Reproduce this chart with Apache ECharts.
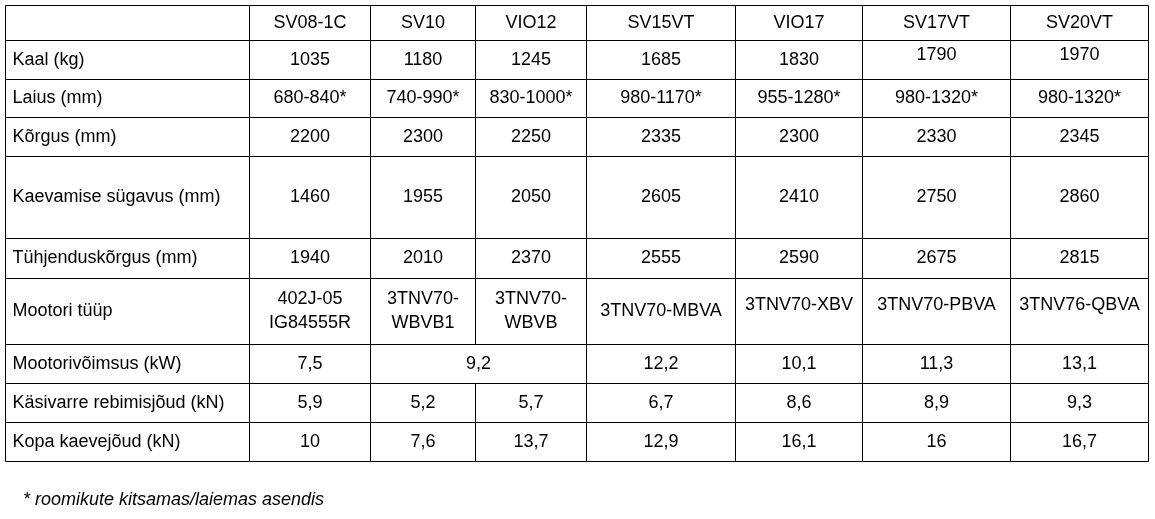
<!DOCTYPE html>
<html><head><meta charset="utf-8">
<script src="https://cdn.jsdelivr.net/npm/echarts@6/dist/echarts.min.js"></script>
<style>html,body{margin:0;padding:0;background:#fff}#c{width:1155px;height:519px}</style>
</head><body><div id="c"></div>
<script>
// ---- data ----
const models = ['SV08-1C','SV10','VIO12','SV15VT','VIO17','SV17VT','SV20VT'];
const rowLabels = ['Kaal (kg)','Laius (mm)','Kõrgus (mm)','Kaevamise sügavus (mm)','Tühjenduskõrgus (mm)','Mootori tüüp','Mootorivõimsus (kW)','Käsivarre rebimisjõud (kN)','Kopa kaevejõud (kN)'];
const kaal = [1035,1180,1245,1685,1830,1790,1970];
const laius = ['680-840*','740-990*','830-1000*','980-1170*','955-1280*','980-1320*','980-1320*'];
const korgus = [2200,2300,2250,2335,2300,2330,2345];
const kaevamiseSugavus = [1460,1955,2050,2605,2410,2750,2860];
const tuhjenduskorgus = [1940,2010,2370,2555,2590,2675,2815];
const mootoriTuup = ['402J-05\nIG84555R','3TNV70-\nWBVB1','3TNV70-\nWBVB','3TNV70-MBVA','3TNV70-XBV','3TNV70-PBVA','3TNV76-QBVA'];
const mootorivoimsus = [7.5,9.2,null,12.2,10.1,11.3,13.1]; // null = merged with previous cell
const kasivarreJoud = [5.9,5.2,5.7,6.7,8.6,8.9,9.3];
const kopaJoud = [10,7.6,13.7,12.9,16.1,16,16.7];
const footnote = '* roomikute kitsamas/laiemas asendis';

// ---- layout ----
const colEdges = [5,249,370,475,586,735,862,1010,1148];
const rowEdges = [5,40,79,117,156,238,278,344,383,422,461];
const FONT = '18px "Liberation Sans", Arial, sans-serif';
// small vertical text shifts seen in the reference ("row-col": px)
const textShift = {'1-6':-5,'1-7':-5,'6-5':-6,'6-6':-6,'6-7':-6};

const rowsData = [kaal, laius, korgus, kaevamiseSugavus, tuhjenduskorgus, mootoriTuup, mootorivoimsus, kasivarreJoud, kopaJoud];
const fmt = v => typeof v === 'number' ? String(v).replace('.', ',') : v;

const cells = [];
cells.push({value:[0,0,1], text:'', align:'left'});
models.forEach((m,i) => cells.push({value:[i+1,0,i+2], text:m, align:'center'}));
rowsData.forEach((arr, ri) => {
  const r = ri + 1;
  cells.push({value:[0,r,1], text:rowLabels[ri], align:'left'});
  for (let i = 0; i < arr.length; i++) {
    if (arr[i] === null) continue;
    let end = i + 1;
    while (end < arr.length && arr[end] === null) end++;
    cells.push({value:[i+1, r, end+1], text:fmt(arr[i]), align:'center'});
  }
});

const chart = echarts.init(document.getElementById('c'), null, {renderer:'canvas'});
chart.setOption({
  animation:false,
  backgroundColor:'#fff',
  grid:{left:0,right:0,top:0,bottom:0},
  xAxis:{type:'value',min:0,max:1155,show:false},
  yAxis:{type:'value',min:0,max:519,inverse:true,show:false},
  graphic:[{type:'text',left:23,top:491,style:{text:footnote,font:'italic 18px "Liberation Sans", Arial, sans-serif',fill:'#000'}}],
  series:[{
    type:'custom',
    silent:true,
    clip:false,
    data:cells,
    renderItem:function(params, api){
      const c0 = api.value(0), r = api.value(1), c1 = api.value(2);
      const cell = cells[params.dataIndex];
      const p0 = api.coord([colEdges[c0], rowEdges[r]]);
      const p1 = api.coord([colEdges[c1], rowEdges[r+1]]);
      const x0 = Math.round(p0[0]) + 0.5, y0 = Math.round(p0[1]) + 0.5;
      const x1 = Math.round(p1[0]) + 0.5, y1 = Math.round(p1[1]) + 0.5;
      const tx = cell.align === 'left' ? x0 + 7 : (x0 + x1) / 2;
      const dy = textShift[r + '-' + c0] || 0;
      return {
        type:'group',
        children:[
          {type:'rect',shape:{x:x0,y:y0,width:x1-x0,height:y1-y0},style:{fill:'#fff',stroke:'#000',lineWidth:1}},
          {type:'text',style:{text:cell.text,x:tx,y:(y0+y1)/2 + dy,align:cell.align,verticalAlign:'middle',font:FONT,fill:'#000',lineHeight:24}}
        ]
      };
    }
  }]
});
</script></body></html>
